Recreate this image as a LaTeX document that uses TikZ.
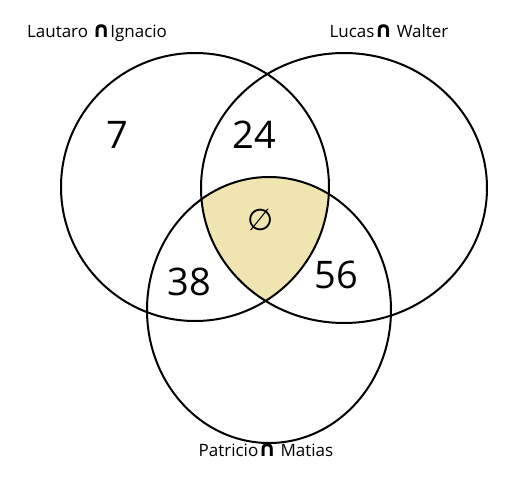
\documentclass[tikz,border=0pt]{standalone}
\usepackage{fontspec}
\setmainfont{Open Sans}
\newfontfamily\symfont{DejaVu Sans}
\usetikzlibrary{positioning}
\definecolor{corefill}{HTML}{F0E4B1}
\newcommand{\capsym}{{\symfont\bfseries\fontsize{22}{22}\selectfont ∩}}

\begin{document}
\begin{tikzpicture}[x=1pt,y=-1pt,
  set/.style={draw,line width=2pt},
  lab/.style={inner sep=0pt,font=\fontsize{17}{19}\selectfont},
  num/.style={inner sep=0pt,font=\fontsize{38}{40}\selectfont}]
\useasboundingbox (0,0) rectangle (531,480);
\coordinate (cL) at (195,187);
\coordinate (cR) at (344,188);
\coordinate (cB) at (269,310);
% shaded triple intersection
\begin{scope}
  \clip (cL) circle [radius=134];
  \clip (cR) ellipse [x radius=143,y radius=135];
  \fill[corefill] (cB) ellipse [x radius=122,y radius=133];
\end{scope}
\draw[set] (cL) circle [radius=134];
\draw[set] (cR) ellipse [x radius=143,y radius=135];
\draw[set] (cB) ellipse [x radius=122,y radius=133];
\node (labL) [lab] at (97,33) {Lautaro \capsym Ignacio};
\node (labR) [lab] at (389,31) {Lucas\capsym\ Walter};
\node (labB) [lab] at (266,450) {Patricio\capsym\ Matias};
\node (onlyL) [num] at (117,135) {7};
\node (lr) [num] at (254,135) {24};
\node (core) [num,font=\fontsize{30}{32}\selectfont] at (261,220) {{\symfont ∅}};
\node (lb) [num] at (189,282) {38};
\node (rb) [num] at (336,275) {56};
\end{tikzpicture}
\end{document}
